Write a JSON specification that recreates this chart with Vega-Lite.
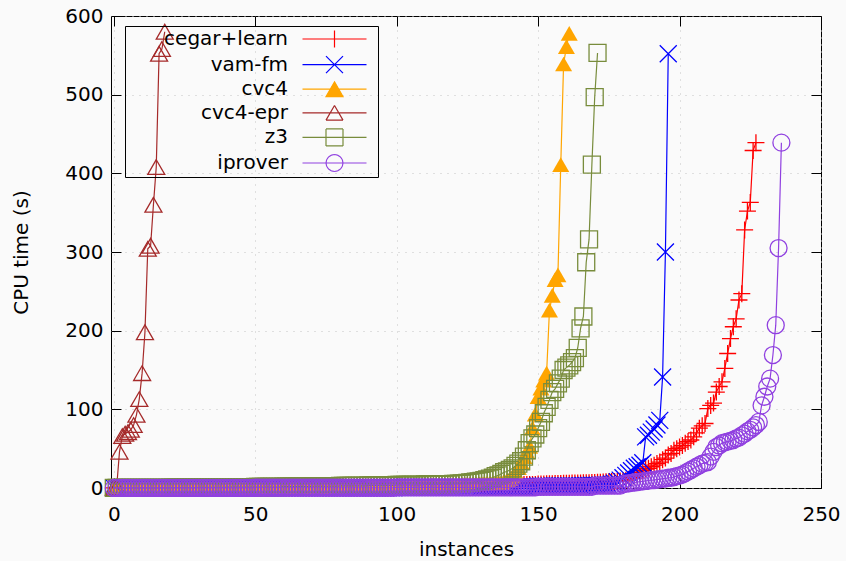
{
"$schema": "https://vega.github.io/schema/vega-lite/v6.json",
"width": 710, "height": 472,
"autosize": {"type": "none"},
"padding": {"left": 111, "top": 16, "right": 25, "bottom": 73},
"background": "#fafafa",
"config": {"view": {"stroke": "black", "strokeWidth": 1}, "font": "DejaVu Sans"},
"datasets": {
"cegar": [
{"x":0,"y":0.1},{"x":1,"y":0.1},{"x":2,"y":0.1},{"x":3,"y":0.1},{"x":4,"y":0.1},{"x":5,"y":0.1},{"x":6,"y":0.1},{"x":7,"y":0.1},{"x":8,"y":0.1},{"x":9,"y":0.1},
{"x":10,"y":0.2},{"x":11,"y":0.2},{"x":12,"y":0.2},{"x":13,"y":0.2},{"x":14,"y":0.2},{"x":15,"y":0.2},{"x":16,"y":0.2},{"x":17,"y":0.2},{"x":18,"y":0.2},{"x":19,"y":0.2},
{"x":20,"y":0.3},{"x":21,"y":0.3},{"x":22,"y":0.3},{"x":23,"y":0.3},{"x":24,"y":0.3},{"x":25,"y":0.3},{"x":26,"y":0.3},{"x":27,"y":0.3},{"x":28,"y":0.3},{"x":29,"y":0.3},
{"x":30,"y":0.4},{"x":31,"y":0.4},{"x":32,"y":0.4},{"x":33,"y":0.4},{"x":34,"y":0.4},{"x":35,"y":0.4},{"x":36,"y":0.4},{"x":37,"y":0.4},{"x":38,"y":0.4},{"x":39,"y":0.4},
{"x":40,"y":0.5},{"x":41,"y":0.5},{"x":42,"y":0.5},{"x":43,"y":0.5},{"x":44,"y":0.5},{"x":45,"y":0.5},{"x":46,"y":0.5},{"x":47,"y":0.5},{"x":48,"y":0.5},{"x":49,"y":0.5},
{"x":50,"y":0.7},{"x":51,"y":0.7},{"x":52,"y":0.7},{"x":53,"y":0.7},{"x":54,"y":0.7},{"x":55,"y":0.7},{"x":56,"y":0.7},{"x":57,"y":0.7},{"x":58,"y":0.7},{"x":59,"y":0.7},
{"x":60,"y":0.9},{"x":61,"y":0.9},{"x":62,"y":0.9},{"x":63,"y":0.9},{"x":64,"y":0.9},{"x":65,"y":0.9},{"x":66,"y":0.9},{"x":67,"y":0.9},{"x":68,"y":0.9},{"x":69,"y":0.9},
{"x":70,"y":1.1},{"x":71,"y":1.1},{"x":72,"y":1.1},{"x":73,"y":1.1},{"x":74,"y":1.1},{"x":75,"y":1.1},{"x":76,"y":1.1},{"x":77,"y":1.1},{"x":78,"y":1.1},{"x":79,"y":1.1},
{"x":80,"y":1.3},{"x":81,"y":1.3},{"x":82,"y":1.3},{"x":83,"y":1.3},{"x":84,"y":1.3},{"x":85,"y":1.3},{"x":86,"y":1.3},{"x":87,"y":1.3},{"x":88,"y":1.3},{"x":89,"y":1.3},
{"x":90,"y":1.6},{"x":91,"y":1.6},{"x":92,"y":1.6},{"x":93,"y":1.6},{"x":94,"y":1.6},{"x":95,"y":1.6},{"x":96,"y":1.6},{"x":97,"y":1.6},{"x":98,"y":1.6},{"x":99,"y":1.6},
{"x":100,"y":2},{"x":101,"y":2},{"x":102,"y":2},{"x":103,"y":2},{"x":104,"y":2},{"x":105,"y":2},{"x":106,"y":2},{"x":107,"y":2},{"x":108,"y":2},{"x":109,"y":2},
{"x":110,"y":2.5},{"x":111,"y":2.5},{"x":112,"y":2.5},{"x":113,"y":2.5},{"x":114,"y":2.5},{"x":115,"y":2.5},{"x":116,"y":2.5},{"x":117,"y":2.5},{"x":118,"y":2.5},{"x":119,"y":2.5},
{"x":120,"y":3},{"x":121,"y":3},{"x":122,"y":3},{"x":123,"y":3},{"x":124,"y":3},{"x":125,"y":3},{"x":126,"y":3},{"x":127,"y":3},{"x":128,"y":3},{"x":129,"y":3},
{"x":130,"y":3.6},{"x":131,"y":3.6},{"x":132,"y":3.6},{"x":133,"y":3.6},{"x":134,"y":3.6},{"x":135,"y":3.6},{"x":136,"y":3.6},{"x":137,"y":3.6},{"x":138,"y":3.6},{"x":139,"y":3.6},
{"x":140,"y":4.3},{"x":141,"y":4.3},{"x":142,"y":4.3},{"x":143,"y":4.3},{"x":144,"y":4.3},{"x":145,"y":4.3},{"x":146,"y":4.3},{"x":147,"y":4.3},{"x":148,"y":4.3},{"x":149,"y":4.3},
{"x":150,"y":5},{"x":151,"y":5.1},{"x":152,"y":5.2},{"x":153,"y":5.3},{"x":154,"y":5.4},{"x":155,"y":5.5},{"x":156,"y":5.6},{"x":157,"y":5.7},{"x":158,"y":5.8},{"x":159,"y":5.9},
{"x":160,"y":6},{"x":161,"y":6.1},{"x":162,"y":6.2},{"x":163,"y":6.3},{"x":164,"y":6.4},{"x":165,"y":6.5},{"x":166,"y":6.6},{"x":167,"y":6.7},{"x":168,"y":6.8},{"x":169,"y":6.9},
{"x":170,"y":7},{"x":171,"y":7.2},{"x":172,"y":7.4},{"x":173,"y":7.6},{"x":174,"y":7.8},{"x":175,"y":8},{"x":176,"y":8.2},{"x":177,"y":8.4},{"x":178,"y":8.6},{"x":179,"y":8.8},
{"x":180,"y":9},{"x":181,"y":10},{"x":182,"y":11},{"x":183,"y":13},{"x":184,"y":15},{"x":185,"y":17},{"x":186,"y":20},{"x":187,"y":22},{"x":188,"y":24},{"x":189,"y":25},
{"x":190,"y":27},{"x":191,"y":29},{"x":192,"y":31},{"x":193,"y":33},{"x":194,"y":36},{"x":195,"y":38},{"x":196,"y":42},{"x":197,"y":44},{"x":198,"y":48},{"x":199,"y":50},
{"x":200,"y":52},{"x":201,"y":54},{"x":202,"y":57},{"x":203,"y":59},{"x":204,"y":61},{"x":205,"y":65},{"x":206,"y":70},{"x":207,"y":76},{"x":208,"y":79},{"x":209,"y":82},
{"x":210,"y":101},{"x":211,"y":105},{"x":212,"y":108},{"x":213,"y":122},{"x":214,"y":129},{"x":215,"y":135},{"x":216,"y":152},{"x":217,"y":171},{"x":218,"y":190},{"x":219,"y":205},
{"x":220,"y":215},{"x":221,"y":239},{"x":222,"y":247},{"x":223,"y":328},{"x":224,"y":352},{"x":225,"y":363},{"x":226,"y":429},{"x":227,"y":439}
],
"vamfm": [
{"x":0,"y":0.2},{"x":1,"y":0.2},{"x":2,"y":0.2},{"x":3,"y":0.2},{"x":4,"y":0.2},{"x":5,"y":0.2},{"x":6,"y":0.2},{"x":7,"y":0.2},{"x":8,"y":0.2},{"x":9,"y":0.2},
{"x":10,"y":0.2},{"x":11,"y":0.2},{"x":12,"y":0.2},{"x":13,"y":0.2},{"x":14,"y":0.2},{"x":15,"y":0.2},{"x":16,"y":0.2},{"x":17,"y":0.2},{"x":18,"y":0.2},{"x":19,"y":0.2},
{"x":20,"y":0.2},{"x":21,"y":0.2},{"x":22,"y":0.2},{"x":23,"y":0.2},{"x":24,"y":0.2},{"x":25,"y":0.2},{"x":26,"y":0.2},{"x":27,"y":0.2},{"x":28,"y":0.2},{"x":29,"y":0.2},
{"x":30,"y":0.2},{"x":31,"y":0.2},{"x":32,"y":0.2},{"x":33,"y":0.2},{"x":34,"y":0.2},{"x":35,"y":0.2},{"x":36,"y":0.2},{"x":37,"y":0.2},{"x":38,"y":0.2},{"x":39,"y":0.2},
{"x":40,"y":0.2},{"x":41,"y":0.2},{"x":42,"y":0.2},{"x":43,"y":0.2},{"x":44,"y":0.2},{"x":45,"y":0.2},{"x":46,"y":0.2},{"x":47,"y":0.2},{"x":48,"y":0.2},{"x":49,"y":0.2},
{"x":50,"y":0.4},{"x":51,"y":0.4},{"x":52,"y":0.4},{"x":53,"y":0.4},{"x":54,"y":0.4},{"x":55,"y":0.4},{"x":56,"y":0.4},{"x":57,"y":0.4},{"x":58,"y":0.4},{"x":59,"y":0.4},
{"x":60,"y":0.4},{"x":61,"y":0.4},{"x":62,"y":0.4},{"x":63,"y":0.4},{"x":64,"y":0.4},{"x":65,"y":0.4},{"x":66,"y":0.4},{"x":67,"y":0.4},{"x":68,"y":0.4},{"x":69,"y":0.4},
{"x":70,"y":0.4},{"x":71,"y":0.4},{"x":72,"y":0.4},{"x":73,"y":0.4},{"x":74,"y":0.4},{"x":75,"y":0.4},{"x":76,"y":0.4},{"x":77,"y":0.4},{"x":78,"y":0.4},{"x":79,"y":0.4},
{"x":80,"y":0.4},{"x":81,"y":0.4},{"x":82,"y":0.4},{"x":83,"y":0.4},{"x":84,"y":0.4},{"x":85,"y":0.4},{"x":86,"y":0.4},{"x":87,"y":0.4},{"x":88,"y":0.4},{"x":89,"y":0.4},
{"x":90,"y":0.4},{"x":91,"y":0.4},{"x":92,"y":0.4},{"x":93,"y":0.4},{"x":94,"y":0.4},{"x":95,"y":0.4},{"x":96,"y":0.4},{"x":97,"y":0.4},{"x":98,"y":0.4},{"x":99,"y":0.4},
{"x":100,"y":0.8},{"x":101,"y":0.8},{"x":102,"y":0.8},{"x":103,"y":0.8},{"x":104,"y":0.8},{"x":105,"y":0.8},{"x":106,"y":0.8},{"x":107,"y":0.8},{"x":108,"y":0.8},{"x":109,"y":0.8},
{"x":110,"y":0.8},{"x":111,"y":0.8},{"x":112,"y":0.8},{"x":113,"y":0.8},{"x":114,"y":0.8},{"x":115,"y":0.8},{"x":116,"y":0.8},{"x":117,"y":0.8},{"x":118,"y":0.8},{"x":119,"y":0.8},
{"x":120,"y":0.8},{"x":121,"y":0.8},{"x":122,"y":0.8},{"x":123,"y":0.8},{"x":124,"y":0.8},{"x":125,"y":0.8},{"x":126,"y":0.8},{"x":127,"y":0.8},{"x":128,"y":0.8},{"x":129,"y":0.8},
{"x":130,"y":1.5},{"x":131,"y":1.5},{"x":132,"y":1.5},{"x":133,"y":1.5},{"x":134,"y":1.5},{"x":135,"y":1.5},{"x":136,"y":1.5},{"x":137,"y":1.5},{"x":138,"y":1.5},{"x":139,"y":1.5},
{"x":140,"y":1.5},{"x":141,"y":1.5},{"x":142,"y":1.5},{"x":143,"y":1.5},{"x":144,"y":1.5},{"x":145,"y":1.5},{"x":146,"y":1.5},{"x":147,"y":1.5},{"x":148,"y":1.5},{"x":149,"y":1.5},
{"x":150,"y":2.5},{"x":151,"y":2.5},{"x":152,"y":2.5},{"x":153,"y":2.5},{"x":154,"y":2.5},{"x":155,"y":2.5},{"x":156,"y":2.5},{"x":157,"y":2.5},{"x":158,"y":2.5},{"x":159,"y":2.5},
{"x":160,"y":2.5},{"x":161,"y":2.5},{"x":162,"y":2.5},{"x":163,"y":2.5},{"x":164,"y":2.5},{"x":165,"y":3},{"x":166,"y":3.1},{"x":167,"y":3.2},{"x":168,"y":3.3},{"x":169,"y":3.4},
{"x":170,"y":3.5},{"x":171,"y":3.6},{"x":172,"y":3.7},{"x":173,"y":3.8},{"x":174,"y":3.9},{"x":175,"y":4},{"x":176,"y":5},{"x":177,"y":6},{"x":178,"y":8},{"x":179,"y":10},
{"x":180,"y":13},{"x":181,"y":16},{"x":182,"y":19},{"x":183,"y":22},{"x":184,"y":25},{"x":185,"y":27},{"x":186,"y":29},{"x":187,"y":32},{"x":188,"y":65},{"x":189,"y":67},
{"x":190,"y":71},{"x":191,"y":75},{"x":192,"y":80},{"x":193,"y":86},{"x":194,"y":141},{"x":195,"y":300},{"x":196,"y":552}
],
"cvc4": [
{"x":0,"y":0.2},{"x":1,"y":0.2},{"x":2,"y":0.2},{"x":3,"y":0.2},{"x":4,"y":0.2},{"x":5,"y":0.2},{"x":6,"y":0.2},{"x":7,"y":0.2},{"x":8,"y":0.2},{"x":9,"y":0.2},
{"x":10,"y":0.2},{"x":11,"y":0.2},{"x":12,"y":0.2},{"x":13,"y":0.2},{"x":14,"y":0.2},{"x":15,"y":0.2},{"x":16,"y":0.2},{"x":17,"y":0.2},{"x":18,"y":0.2},{"x":19,"y":0.2},
{"x":20,"y":0.2},{"x":21,"y":0.2},{"x":22,"y":0.2},{"x":23,"y":0.2},{"x":24,"y":0.2},{"x":25,"y":0.2},{"x":26,"y":0.2},{"x":27,"y":0.2},{"x":28,"y":0.2},{"x":29,"y":0.2},
{"x":30,"y":0.5},{"x":31,"y":0.5},{"x":32,"y":0.5},{"x":33,"y":0.5},{"x":34,"y":0.5},{"x":35,"y":0.5},{"x":36,"y":0.5},{"x":37,"y":0.5},{"x":38,"y":0.5},{"x":39,"y":0.5},
{"x":40,"y":0.5},{"x":41,"y":0.5},{"x":42,"y":0.5},{"x":43,"y":0.5},{"x":44,"y":0.5},{"x":45,"y":0.5},{"x":46,"y":0.5},{"x":47,"y":0.5},{"x":48,"y":0.5},{"x":49,"y":0.5},
{"x":50,"y":0.5},{"x":51,"y":0.5},{"x":52,"y":0.5},{"x":53,"y":0.5},{"x":54,"y":0.5},{"x":55,"y":0.5},{"x":56,"y":0.5},{"x":57,"y":0.5},{"x":58,"y":0.5},{"x":59,"y":0.5},
{"x":60,"y":1},{"x":61,"y":1},{"x":62,"y":1},{"x":63,"y":1},{"x":64,"y":1},{"x":65,"y":1},{"x":66,"y":1},{"x":67,"y":1},{"x":68,"y":1},{"x":69,"y":1},
{"x":70,"y":1},{"x":71,"y":1},{"x":72,"y":1},{"x":73,"y":1},{"x":74,"y":1},{"x":75,"y":1},{"x":76,"y":1},{"x":77,"y":1},{"x":78,"y":1},{"x":79,"y":1},
{"x":80,"y":1},{"x":81,"y":1},{"x":82,"y":1},{"x":83,"y":1},{"x":84,"y":1},{"x":85,"y":1},{"x":86,"y":1},{"x":87,"y":1},{"x":88,"y":1},{"x":89,"y":1},
{"x":90,"y":2},{"x":91,"y":2},{"x":92,"y":2},{"x":93,"y":2},{"x":94,"y":2},{"x":95,"y":2},{"x":96,"y":2},{"x":97,"y":2},{"x":98,"y":2},{"x":99,"y":2},
{"x":100,"y":2},{"x":101,"y":2},{"x":102,"y":2},{"x":103,"y":2},{"x":104,"y":2},{"x":105,"y":2},{"x":106,"y":2},{"x":107,"y":2},{"x":108,"y":2},{"x":109,"y":2},
{"x":110,"y":3},{"x":111,"y":3},{"x":112,"y":3},{"x":113,"y":3},{"x":114,"y":3},{"x":115,"y":3},{"x":116,"y":3},{"x":117,"y":3},{"x":118,"y":3},{"x":119,"y":3},
{"x":120,"y":4},{"x":121,"y":4.2},{"x":122,"y":4.4},{"x":123,"y":4.6},{"x":124,"y":4.8},{"x":125,"y":5},{"x":126,"y":5.2},{"x":127,"y":5.4},{"x":128,"y":5.6},{"x":129,"y":5.8},
{"x":130,"y":6},{"x":131,"y":6.2},{"x":132,"y":6.4},{"x":133,"y":6.6},{"x":134,"y":6.8},{"x":135,"y":7},{"x":136,"y":7.3},{"x":137,"y":7.6},{"x":138,"y":9},{"x":139,"y":10},
{"x":140,"y":12},{"x":141,"y":15},{"x":142,"y":20},{"x":143,"y":26},{"x":144,"y":33},{"x":145,"y":40},{"x":146,"y":46},{"x":147,"y":53},{"x":148,"y":76},{"x":149,"y":94},
{"x":150,"y":116},{"x":151,"y":127},{"x":152,"y":137},{"x":153,"y":146},{"x":154,"y":226},{"x":155,"y":245},{"x":156,"y":265},{"x":157,"y":271},{"x":158,"y":411},{"x":159,"y":539},
{"x":160,"y":561},{"x":161,"y":578}
],
"cvc4epr": [
{"x":0,"y":0.3},{"x":1,"y":1},{"x":2,"y":46},{"x":3,"y":66},{"x":4,"y":69},{"x":5,"y":71},{"x":6,"y":74},{"x":7,"y":80},{"x":8,"y":93},{"x":9,"y":113},
{"x":10,"y":146},{"x":11,"y":198},{"x":12,"y":304},{"x":13,"y":308},{"x":14,"y":360},{"x":15,"y":408},{"x":16,"y":552},{"x":17,"y":558},{"x":18,"y":580}
],
"z3": [
{"x":0,"y":0.1},{"x":1,"y":0.1},{"x":2,"y":0.1},{"x":3,"y":0.1},{"x":4,"y":0.1},{"x":5,"y":0.1},{"x":6,"y":0.1},{"x":7,"y":0.1},{"x":8,"y":0.1},{"x":9,"y":0.1},
{"x":10,"y":0.25},{"x":11,"y":0.25},{"x":12,"y":0.25},{"x":13,"y":0.25},{"x":14,"y":0.25},{"x":15,"y":0.25},{"x":16,"y":0.25},{"x":17,"y":0.25},{"x":18,"y":0.25},{"x":19,"y":0.25},
{"x":20,"y":0.45},{"x":21,"y":0.45},{"x":22,"y":0.45},{"x":23,"y":0.45},{"x":24,"y":0.45},{"x":25,"y":0.45},{"x":26,"y":0.45},{"x":27,"y":0.45},{"x":28,"y":0.45},{"x":29,"y":0.45},
{"x":30,"y":0.7},{"x":31,"y":0.7},{"x":32,"y":0.7},{"x":33,"y":0.7},{"x":34,"y":0.7},{"x":35,"y":0.7},{"x":36,"y":0.7},{"x":37,"y":0.7},{"x":38,"y":0.7},{"x":39,"y":0.7},
{"x":40,"y":1},{"x":41,"y":1},{"x":42,"y":1},{"x":43,"y":1},{"x":44,"y":1},{"x":45,"y":1},{"x":46,"y":1},{"x":47,"y":1},{"x":48,"y":1},{"x":49,"y":1},
{"x":50,"y":1.3},{"x":51,"y":1.3},{"x":52,"y":1.3},{"x":53,"y":1.3},{"x":54,"y":1.3},{"x":55,"y":1.3},{"x":56,"y":1.3},{"x":57,"y":1.3},{"x":58,"y":1.3},{"x":59,"y":1.3},
{"x":60,"y":1.7},{"x":61,"y":1.7},{"x":62,"y":1.7},{"x":63,"y":1.7},{"x":64,"y":1.7},{"x":65,"y":1.7},{"x":66,"y":1.7},{"x":67,"y":1.7},{"x":68,"y":1.7},{"x":69,"y":1.7},
{"x":70,"y":2.2},{"x":71,"y":2.2},{"x":72,"y":2.2},{"x":73,"y":2.2},{"x":74,"y":2.2},{"x":75,"y":2.2},{"x":76,"y":2.2},{"x":77,"y":2.2},{"x":78,"y":2.2},{"x":79,"y":2.2},
{"x":80,"y":2.7},{"x":81,"y":2.7},{"x":82,"y":2.7},{"x":83,"y":2.7},{"x":84,"y":2.7},{"x":85,"y":2.7},{"x":86,"y":2.7},{"x":87,"y":2.7},{"x":88,"y":2.7},{"x":89,"y":2.7},
{"x":90,"y":3.2},{"x":91,"y":3.2},{"x":92,"y":3.2},{"x":93,"y":3.2},{"x":94,"y":3.2},{"x":95,"y":3.2},{"x":96,"y":3.2},{"x":97,"y":3.2},{"x":98,"y":3.2},{"x":99,"y":3.2},
{"x":100,"y":3.8},{"x":101,"y":3.8},{"x":102,"y":3.8},{"x":103,"y":3.8},{"x":104,"y":3.8},{"x":105,"y":3.8},{"x":106,"y":3.8},{"x":107,"y":3.8},{"x":108,"y":3.8},{"x":109,"y":3.8},
{"x":110,"y":4.5},{"x":111,"y":4.5},{"x":112,"y":4.5},{"x":113,"y":4.5},{"x":114,"y":4.5},{"x":115,"y":4.5},{"x":116,"y":4.5},{"x":117,"y":4.5},{"x":118,"y":4.5},{"x":119,"y":4.5},
{"x":120,"y":5.1},{"x":121,"y":5.3},{"x":122,"y":5.5},{"x":123,"y":5.7},{"x":124,"y":6},{"x":125,"y":6.5},{"x":126,"y":7},{"x":127,"y":7.5},{"x":128,"y":8},{"x":129,"y":8.5},
{"x":130,"y":9},{"x":131,"y":10},{"x":132,"y":11},{"x":133,"y":12},{"x":134,"y":13},{"x":135,"y":15},{"x":136,"y":16},{"x":137,"y":18},{"x":138,"y":20},{"x":139,"y":21},
{"x":140,"y":23},{"x":141,"y":25},{"x":142,"y":28},{"x":143,"y":31},{"x":144,"y":34},{"x":145,"y":40},{"x":146,"y":48},{"x":147,"y":57},{"x":148,"y":63},{"x":149,"y":68},
{"x":150,"y":76},{"x":151,"y":84},{"x":152,"y":95},{"x":153,"y":103},{"x":154,"y":112},{"x":155,"y":122},{"x":156,"y":126},{"x":157,"y":133},{"x":158,"y":139},{"x":159,"y":150},
{"x":160,"y":153},{"x":161,"y":156},{"x":162,"y":160},{"x":163,"y":165},{"x":164,"y":178},{"x":165,"y":203},{"x":166,"y":218},{"x":167,"y":287},{"x":168,"y":316},{"x":169,"y":411},
{"x":170,"y":497},{"x":171,"y":553}
],
"iprover": [
{"x":0,"y":0.1},{"x":1,"y":0.1},{"x":2,"y":0.1},{"x":3,"y":0.1},{"x":4,"y":0.1},{"x":5,"y":0.1},{"x":6,"y":0.1},{"x":7,"y":0.1},{"x":8,"y":0.1},{"x":9,"y":0.1},
{"x":10,"y":0.1},{"x":11,"y":0.1},{"x":12,"y":0.1},{"x":13,"y":0.1},{"x":14,"y":0.1},{"x":15,"y":0.1},{"x":16,"y":0.1},{"x":17,"y":0.1},{"x":18,"y":0.1},{"x":19,"y":0.1},
{"x":20,"y":0.1},{"x":21,"y":0.1},{"x":22,"y":0.1},{"x":23,"y":0.1},{"x":24,"y":0.1},{"x":25,"y":0.1},{"x":26,"y":0.1},{"x":27,"y":0.1},{"x":28,"y":0.1},{"x":29,"y":0.1},
{"x":30,"y":0.1},{"x":31,"y":0.1},{"x":32,"y":0.1},{"x":33,"y":0.1},{"x":34,"y":0.1},{"x":35,"y":0.1},{"x":36,"y":0.1},{"x":37,"y":0.1},{"x":38,"y":0.1},{"x":39,"y":0.1},
{"x":40,"y":0.1},{"x":41,"y":0.1},{"x":42,"y":0.1},{"x":43,"y":0.1},{"x":44,"y":0.1},{"x":45,"y":0.1},{"x":46,"y":0.1},{"x":47,"y":0.1},{"x":48,"y":0.1},{"x":49,"y":0.1},
{"x":50,"y":0.3},{"x":51,"y":0.3},{"x":52,"y":0.3},{"x":53,"y":0.3},{"x":54,"y":0.3},{"x":55,"y":0.3},{"x":56,"y":0.3},{"x":57,"y":0.3},{"x":58,"y":0.3},{"x":59,"y":0.3},
{"x":60,"y":0.3},{"x":61,"y":0.3},{"x":62,"y":0.3},{"x":63,"y":0.3},{"x":64,"y":0.3},{"x":65,"y":0.3},{"x":66,"y":0.3},{"x":67,"y":0.3},{"x":68,"y":0.3},{"x":69,"y":0.3},
{"x":70,"y":0.3},{"x":71,"y":0.3},{"x":72,"y":0.3},{"x":73,"y":0.3},{"x":74,"y":0.3},{"x":75,"y":0.3},{"x":76,"y":0.3},{"x":77,"y":0.3},{"x":78,"y":0.3},{"x":79,"y":0.3},
{"x":80,"y":0.3},{"x":81,"y":0.3},{"x":82,"y":0.3},{"x":83,"y":0.3},{"x":84,"y":0.3},{"x":85,"y":0.3},{"x":86,"y":0.3},{"x":87,"y":0.3},{"x":88,"y":0.3},{"x":89,"y":0.3},
{"x":90,"y":0.3},{"x":91,"y":0.3},{"x":92,"y":0.3},{"x":93,"y":0.3},{"x":94,"y":0.3},{"x":95,"y":0.3},{"x":96,"y":0.3},{"x":97,"y":0.3},{"x":98,"y":0.3},{"x":99,"y":0.3},
{"x":100,"y":0.8},{"x":101,"y":0.8},{"x":102,"y":0.8},{"x":103,"y":0.8},{"x":104,"y":0.8},{"x":105,"y":0.8},{"x":106,"y":0.8},{"x":107,"y":0.8},{"x":108,"y":0.8},{"x":109,"y":0.8},
{"x":110,"y":0.8},{"x":111,"y":0.8},{"x":112,"y":0.8},{"x":113,"y":0.8},{"x":114,"y":0.8},{"x":115,"y":0.8},{"x":116,"y":0.8},{"x":117,"y":0.8},{"x":118,"y":0.8},{"x":119,"y":0.8},
{"x":120,"y":0.8},{"x":121,"y":0.8},{"x":122,"y":0.8},{"x":123,"y":0.8},{"x":124,"y":0.8},{"x":125,"y":0.8},{"x":126,"y":0.8},{"x":127,"y":0.8},{"x":128,"y":0.8},{"x":129,"y":0.8},
{"x":130,"y":0.8},{"x":131,"y":0.8},{"x":132,"y":0.8},{"x":133,"y":0.8},{"x":134,"y":0.8},{"x":135,"y":0.8},{"x":136,"y":0.8},{"x":137,"y":0.8},{"x":138,"y":0.8},{"x":139,"y":0.8},
{"x":140,"y":0.8},{"x":141,"y":0.8},{"x":142,"y":0.8},{"x":143,"y":0.8},{"x":144,"y":0.8},{"x":145,"y":0.8},{"x":146,"y":0.8},{"x":147,"y":0.8},{"x":148,"y":0.8},{"x":149,"y":0.8},
{"x":150,"y":1.5},{"x":151,"y":1.5},{"x":152,"y":1.5},{"x":153,"y":1.5},{"x":154,"y":1.5},{"x":155,"y":1.5},{"x":156,"y":1.5},{"x":157,"y":1.5},{"x":158,"y":1.5},{"x":159,"y":1.5},
{"x":160,"y":1.5},{"x":161,"y":1.5},{"x":162,"y":1.5},{"x":163,"y":1.5},{"x":164,"y":1.5},{"x":165,"y":1.5},{"x":166,"y":1.5},{"x":167,"y":1.5},{"x":168,"y":1.5},{"x":169,"y":1.5},
{"x":170,"y":3},{"x":171,"y":3},{"x":172,"y":3},{"x":173,"y":3},{"x":174,"y":3},{"x":175,"y":3},{"x":176,"y":3},{"x":177,"y":3},{"x":178,"y":3},{"x":179,"y":3},
{"x":180,"y":5},{"x":181,"y":5.5},{"x":182,"y":6},{"x":183,"y":6.5},{"x":184,"y":7},{"x":185,"y":7.5},{"x":186,"y":8},{"x":187,"y":8.5},{"x":188,"y":9},{"x":189,"y":9.5},
{"x":190,"y":10},{"x":191,"y":10},{"x":192,"y":11},{"x":193,"y":11},{"x":194,"y":12},{"x":195,"y":12},{"x":196,"y":13},{"x":197,"y":13},{"x":198,"y":14},{"x":199,"y":15},
{"x":200,"y":16},{"x":201,"y":17},{"x":202,"y":19},{"x":203,"y":21},{"x":204,"y":23},{"x":205,"y":25},{"x":206,"y":27},{"x":207,"y":29},{"x":208,"y":31},{"x":209,"y":32},
{"x":210,"y":33},{"x":211,"y":40},{"x":212,"y":46},{"x":213,"y":52},{"x":214,"y":54},{"x":215,"y":57},{"x":216,"y":58},{"x":217,"y":59},{"x":218,"y":60},{"x":219,"y":61},
{"x":220,"y":63},{"x":221,"y":64},{"x":222,"y":67},{"x":223,"y":69},{"x":224,"y":72},{"x":225,"y":74},{"x":226,"y":77},{"x":227,"y":80},{"x":228,"y":84},{"x":229,"y":105},
{"x":230,"y":116},{"x":231,"y":129},{"x":232,"y":139},{"x":233,"y":169},{"x":234,"y":207},{"x":235,"y":305},{"x":236,"y":439}
]
},
"resolve": {"axis": {"x": "independent", "y": "independent"}},
"layer": [
{
"layer": [
{
"data": {"name": "cegar"},
"mark": {"type": "line", "strokeWidth": 1.2, "point": {"shape": "M-1,0H1M0,-1V1", "size": 289, "filled": false, "strokeWidth": 1.3}},
"encoding": {
"x": {"field": "x", "type": "quantitative", "scale": {"domain": [-1, 250], "nice": false, "zero": false},
"axis": {"title": "instances", "values": [0,50,100,150,200,250], "grid": true, "gridColor": "#c4c4c4", "gridDash": [1,6], "gridWidth": 1, "domain": false, "tickSize": -10, "tickColor": "black", "tickWidth": 1, "labelFont": "DejaVu Sans", "labelFontSize": 20, "labelColor": "black", "labelPadding": 26, "labelFlush": false, "labelOverlap": false, "titleFont": "DejaVu Sans", "titleFontSize": 20, "titleFontWeight": "normal", "titleColor": "black", "titlePadding": 15}},
"y": {"field": "y", "type": "quantitative", "scale": {"domain": [0, 600], "nice": false, "zero": false},
"axis": {"title": "CPU time (s)", "values": [0,100,200,300,400,500,600], "grid": true, "gridColor": "#c4c4c4", "gridDash": [1,6], "gridWidth": 1, "domain": false, "tickSize": -10, "tickColor": "black", "tickWidth": 1, "labelFont": "DejaVu Sans", "labelFontSize": 20, "labelColor": "black", "labelPadding": 18, "labelFlush": false, "labelOverlap": false, "titleFont": "DejaVu Sans", "titleFontSize": 20, "titleFontWeight": "normal", "titleColor": "black", "titlePadding": 33}},
"color": {"datum": "cegar+learn", "type": "nominal",
"scale": {"domain": ["cegar+learn","vam-fm","cvc4","cvc4-epr","z3","iprover"], "range": ["#ff0000","#0000ff","#ffa500","#a52a2a","#788c3c","#9040e0"]},
"legend": {"title": null, "orient": "none", "legendX": 14, "legendY": 10, "padding": 3, "rowPadding": 3.6, "strokeColor": "black", "labelFont": "DejaVu Sans", "labelFontSize": 20, "labelColor": "black", "labelAlign": "right", "labelBaseline": "middle", "labelLimit": 300, "labelOffset": -56.5, "symbolOffset": 196.5, "symbolSize": 289, "symbolStrokeWidth": 1.2,
"encode": {"symbols": {"update": {
"shape": {"signal": "datum.value === 'cegar+learn' ? 'M-3.765,0H3.765M0,-1V1M4.4,0' : datum.value === 'vam-fm' ? 'M-3.765,0H3.765M-1,-1L1,1M-1,1L1,-1M4.4,0' : datum.value === 'cvc4' ? 'M-3.765,0H3.765M0,-0.866L1,0.866L-1,0.866ZM4.4,0' : datum.value === 'cvc4-epr' ? 'M-3.765,0H3.765M0,-0.866L1,0.866M1,0.866L-1,0.866M-1,0.866L0,-0.866M4.4,0' : datum.value === 'z3' ? 'M-3.765,0H3.765M-1,-1H1M1,-1V1M1,1H-1M-1,1V-1M4.4,0' : 'M-3.765,0H3.765M1,0L0.924,0.383M0.924,0.383L0.707,0.707M0.707,0.707L0.383,0.924M0.383,0.924L0,1M0,1L-0.383,0.924M-0.383,0.924L-0.707,0.707M-0.707,0.707L-0.924,0.383M-0.924,0.383L-1,0M-1,0L-0.924,-0.383M-0.924,-0.383L-0.707,-0.707M-0.707,-0.707L-0.383,-0.924M-0.383,-0.924L0,-1M0,-1L0.383,-0.924M0.383,-0.924L0.707,-0.707M0.707,-0.707L0.924,-0.383M0.924,-0.383L1,0M4.4,0'"}
}}}}}
}
},
{
"data": {"name": "vamfm"},
"mark": {"type": "line", "strokeWidth": 1.2, "point": {"shape": "M-1,-1L1,1M-1,1L1,-1", "size": 289, "filled": false, "strokeWidth": 1.3}},
"encoding": {
"x": {"field": "x", "type": "quantitative", "scale": {"domain": [-1, 250], "nice": false, "zero": false}},
"y": {"field": "y", "type": "quantitative", "scale": {"domain": [0, 600], "nice": false, "zero": false}},
"color": {"datum": "vam-fm", "type": "nominal"}
}
},
{
"data": {"name": "cvc4"},
"mark": {"type": "line", "strokeWidth": 1.2, "point": {"shape": "triangle-up", "size": 289, "filled": true}},
"encoding": {
"x": {"field": "x", "type": "quantitative", "scale": {"domain": [-1, 250], "nice": false, "zero": false}},
"y": {"field": "y", "type": "quantitative", "scale": {"domain": [0, 600], "nice": false, "zero": false}},
"color": {"datum": "cvc4", "type": "nominal"}
}
},
{
"data": {"name": "cvc4epr"},
"mark": {"type": "line", "strokeWidth": 1.2, "point": {"shape": "triangle-up", "size": 289, "filled": false, "strokeWidth": 1.3}},
"encoding": {
"x": {"field": "x", "type": "quantitative", "scale": {"domain": [-1, 250], "nice": false, "zero": false}},
"y": {"field": "y", "type": "quantitative", "scale": {"domain": [0, 600], "nice": false, "zero": false}},
"color": {"datum": "cvc4-epr", "type": "nominal"}
}
},
{
"data": {"name": "z3"},
"mark": {"type": "line", "strokeWidth": 1.2, "point": {"shape": "square", "size": 289, "filled": false, "strokeWidth": 1.3}},
"encoding": {
"x": {"field": "x", "type": "quantitative", "scale": {"domain": [-1, 250], "nice": false, "zero": false}},
"y": {"field": "y", "type": "quantitative", "scale": {"domain": [0, 600], "nice": false, "zero": false}},
"color": {"datum": "z3", "type": "nominal"}
}
},
{
"data": {"name": "iprover"},
"mark": {"type": "line", "strokeWidth": 1.2, "point": {"shape": "circle", "size": 289, "filled": false, "strokeWidth": 1.3}},
"encoding": {
"x": {"field": "x", "type": "quantitative", "scale": {"domain": [-1, 250], "nice": false, "zero": false}},
"y": {"field": "y", "type": "quantitative", "scale": {"domain": [0, 600], "nice": false, "zero": false}},
"color": {"datum": "iprover", "type": "nominal"}
}
}
]
},
{
"data": {"name": "cvc4epr"},
"mark": {"type": "point", "opacity": 0},
"encoding": {
"x": {"field": "x", "type": "quantitative", "scale": {"domain": [-1, 250], "nice": false, "zero": false},
"axis": {"orient": "top", "title": null, "labels": false, "grid": false, "domain": false, "values": [0,50,100,150,200,250], "tickSize": -10, "tickColor": "black", "tickWidth": 1}},
"y": {"field": "y", "type": "quantitative", "scale": {"domain": [0, 600], "nice": false, "zero": false},
"axis": {"orient": "right", "title": null, "labels": false, "grid": false, "domain": false, "values": [0,100,200,300,400,500,600], "tickSize": -10, "tickColor": "black", "tickWidth": 1}}
}
}
]
}
